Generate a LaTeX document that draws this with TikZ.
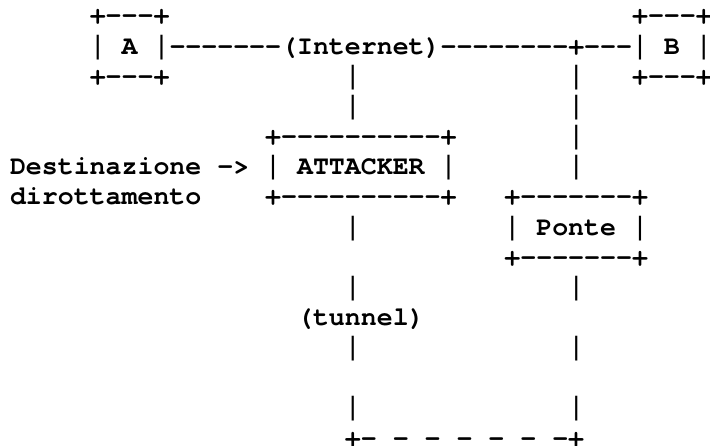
\documentclass[tikz,border=0pt]{standalone}
\usepackage{fontspec}
\setmonofont{texgyrecursor-regular.otf}[BoldFont=texgyrecursor-bold.otf]
% thin full-height bar glyph used for every vertical stroke
\newfontfamily\barfont{Liberation Mono}
\newcommand\vb{{\barfont\mdseries|}}
% character grid of the plain-text network sketch
\def\colw{15.95}
\def\rowh{30.15}
\newcommand\gridtext[4]{%
  \node[ascii] (#1) at ({10+\colw*#2},{-(24+\rowh*#3)}) {#4};}
\begin{document}
\begin{tikzpicture}[x=1pt,y=1pt,
  ascii/.style={anchor=base west, inner sep=0pt, outer sep=0pt,
    font=\ttfamily\bfseries\fontsize{26.58pt}{30pt}\selectfont}]
\useasboundingbox (0,0) rectangle (710,-446);
% row 0
\gridtext{Atop}{5}{0}{+---+}
\gridtext{Btop}{39}{0}{+---+}
% row 1: hosts A and B joined through the Internet
\gridtext{Amid}{5}{1}{\vb{} A \vb}
\gridtext{lnkAI}{10}{1}{-------}
\gridtext{inet}{17}{1}{(Internet)}
\gridtext{lnkIJ}{27}{1}{--------}
\gridtext{junc}{35}{1}{+}
\gridtext{lnkJB}{36}{1}{---}
\gridtext{Bmid}{39}{1}{\vb{} B \vb}
% row 2
\gridtext{Abot}{5}{2}{+---+}
\gridtext{vL2}{21}{2}{\vb}
\gridtext{vR2}{35}{2}{\vb}
\gridtext{Bbot}{39}{2}{+---+}
% row 3
\gridtext{vL3}{21}{3}{\vb}
\gridtext{vR3}{35}{3}{\vb}
% rows 4-6: attacker box
\gridtext{Xtop}{16}{4}{+----------+}
\gridtext{vR4}{35}{4}{\vb}
\gridtext{dest}{0}{5}{Destinazione ->}
\gridtext{Xmid}{16}{5}{\vb{} ATTACKER \vb}
\gridtext{vR5}{35}{5}{\vb}
\gridtext{dirott}{0}{6}{dirottamento}
\gridtext{Xbot}{16}{6}{+----------+}
% rows 6-8: bridge box
\gridtext{Ptop}{31}{6}{+-------+}
\gridtext{vL7}{21}{7}{\vb}
\gridtext{Pmid}{31}{7}{\vb{} Ponte \vb}
\gridtext{Pbot}{31}{8}{+-------+}
% rows 9-14: tunnel
\gridtext{vL9}{21}{9}{\vb}
\gridtext{vR9}{35}{9}{\vb}
\gridtext{tunnel}{18}{10}{(tunnel)}
\gridtext{vL11}{21}{11}{\vb}
\gridtext{vR11}{35}{11}{\vb}
\gridtext{vL13}{21}{13}{\vb}
\gridtext{vR13}{35}{13}{\vb}
\gridtext{tbot}{21}{14}{+- - - - - - -+}
\end{tikzpicture}
\end{document}
